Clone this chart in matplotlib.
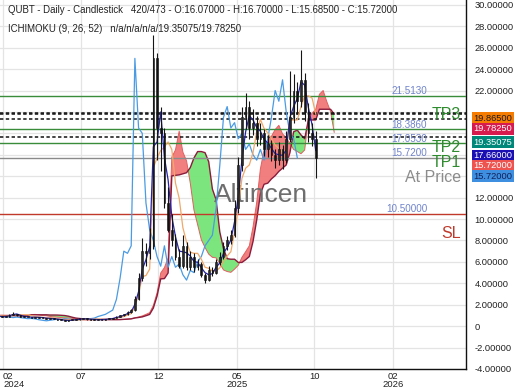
import matplotlib
matplotlib.use("Agg")
import matplotlib.pyplot as plt
import numpy as np
import pandas as pd

plt.rcParams['font.family'] = ['Liberation Sans', 'DejaVu Sans']

# ---------------- data (weekly bars, index 0 = start of visible range) ----------------
first_bar = -16
opens = [0.72,0.75,0.80,0.78,0.85,0.90,0.82,0.80,0.88,0.95,1.00,1.10,1.05,0.95,1.00,0.92,
         0.88,0.85,0.90,1.05,1.15,1.00,0.90,0.85,0.86,0.80,0.85,0.80,0.75,0.70,0.72,0.68,
         0.60,0.55,0.50,0.55,0.60,0.65,0.65,0.70,0.65,0.62,0.60,0.60,0.62,0.65,0.70,0.75,
         0.90,1.00,1.10,1.30,1.50,2.50,4.50,7.00,6.80,7.50,25.00,18.50,18.00,11.50,9.00,8.00,
         6.50,5.60,7.50,5.50,6.50,5.50,5.80,4.80,4.30,5.20,5.00,6.00,6.50,7.50,8.00,8.50,
         11.00,15.00,19.50,20.50,18.50,19.00,17.50,18.00,16.50,17.00,16.00,15.50,16.50,15.50,17.50,19.50,
         22.00,21.00,23.00,20.00,18.00,17.50]
highs = [0.80,0.84,0.83,0.90,0.95,0.92,0.86,0.92,0.99,1.06,1.18,1.12,1.07,1.05,1.02,0.95,
         0.92,0.96,1.10,1.30,1.18,1.02,0.93,0.90,0.88,0.88,0.87,0.82,0.77,0.76,0.74,0.70,
         0.63,0.57,0.58,0.63,0.68,0.69,0.73,0.72,0.67,0.64,0.64,0.65,0.68,0.74,0.79,0.95,
         1.05,1.16,1.38,1.62,2.80,5.00,8.20,7.80,9.20,27.20,25.50,20.50,18.50,13.00,10.50,8.60,
         7.20,8.50,7.90,7.00,6.80,6.30,6.00,5.00,5.60,5.50,6.30,6.90,7.90,8.40,9.00,11.80,
         15.80,20.50,21.80,21.00,20.30,19.60,19.00,18.40,17.80,17.40,16.50,17.20,16.90,18.20,23.80,23.50,
         22.80,25.80,23.60,20.80,19.00,18.20]
lows = [0.70,0.73,0.74,0.76,0.83,0.80,0.77,0.79,0.86,0.93,0.98,0.98,0.92,0.93,0.89,0.84,
        0.82,0.84,0.88,1.02,0.97,0.86,0.82,0.82,0.78,0.78,0.77,0.73,0.68,0.68,0.65,0.58,
        0.53,0.48,0.49,0.54,0.58,0.61,0.63,0.62,0.59,0.57,0.57,0.58,0.60,0.63,0.68,0.73,
        0.86,0.96,1.05,1.25,1.45,2.40,4.20,5.60,6.30,7.20,15.50,14.50,11.00,8.80,7.50,6.20,
        5.40,5.40,5.20,5.20,5.10,5.20,4.60,4.00,4.20,4.70,4.90,5.70,6.30,7.10,7.70,8.30,
        10.60,14.50,18.40,17.50,17.80,16.80,16.90,15.90,15.80,15.40,14.80,15.00,14.70,15.20,17.20,19.00,
        19.80,20.50,19.20,17.20,16.80,13.80]
closes = [0.75,0.80,0.78,0.85,0.90,0.82,0.80,0.88,0.95,1.00,1.10,1.05,0.95,1.00,0.92,0.88,
          0.85,0.90,1.05,1.15,1.00,0.90,0.85,0.86,0.80,0.85,0.80,0.75,0.70,0.72,0.68,0.60,
          0.55,0.50,0.55,0.60,0.65,0.65,0.70,0.65,0.62,0.60,0.60,0.62,0.65,0.70,0.75,0.90,
          1.00,1.10,1.30,1.50,2.50,4.50,7.00,6.80,7.50,25.00,18.50,18.00,11.50,9.00,8.00,6.50,
          5.60,7.50,5.50,6.50,5.50,5.80,4.80,4.30,5.20,5.00,6.00,6.50,7.50,8.00,8.50,11.00,
          15.00,19.50,20.50,18.50,19.00,17.50,18.00,16.50,17.00,16.00,15.50,16.50,15.50,17.50,19.50,22.00,
          21.00,23.00,20.00,18.00,17.50,15.72]

tenkan_len, kijun_len, spanb_len, displacement = 2, 5, 10, 5   # 9 / 26 / 52 days in weekly bars

level_tp = [21.513, 18.386, 17.053]
level_price = 15.72
level_sl = 10.5
dashed_levels = [19.865, 19.7825, 19.35075, 17.66]
level_text = ["21.5130", "18.3860", "17.0530", "15.7200", "10.50000"]
level_text_vals = [21.513, 18.386, 17.053, 15.72, 10.5]

box_labels = ["19.86500", "19.78250", "19.35075", "17.66000", "15.72000", "15.72000"]
box_colors = ["#f57c00", "#d81b4e", "#00897b", "#1a10b4", "#ef5350", "#3f8fe0"]
box_text_colors = ["#1a1a1a", "white", "white", "white", "white", "#10205a"]
box_pos = [19.50, 18.50, 17.25, 15.98, 15.07, 14.07]

xtick_pos = [0.27, 21.4, 42.3, 63.7, 84.6, 106.0]
xtick_labels = ["02\n2024", "07", "12", "05\n2025", "10", "02\n2026"]
ytick_vals = list(range(-4, 31, 2))
ytick_hidden = [14, 16, 18, 20]   # covered by the price boxes

# ---------------- figure ----------------
fig = plt.figure(figsize=(5.2, 3.9), dpi=100)
ax = fig.add_axes([0, 21/390, 466/520, 369/390])

n = len(closes)
x = np.arange(first_bar, first_bar + n)
df = pd.DataFrame({"o": opens, "h": highs, "l": lows, "c": closes}, index=x)

tenkan = (df.h.rolling(tenkan_len).max() + df.l.rolling(tenkan_len).min()) / 2
kijun = (df.h.rolling(kijun_len).max() + df.l.rolling(kijun_len).min()) / 2
span_a = (tenkan + kijun) / 2
span_b = (df.h.rolling(spanb_len).max() + df.l.rolling(spanb_len).min()) / 2
xs = x + displacement

# cloud
sa = span_a.values
sb = span_b.values
ax.fill_between(xs, sa, sb, where=sb >= sa, color="#76e476", alpha=0.95, interpolate=True, lw=0, zorder=2)
ax.fill_between(xs, sa, sb, where=sa > sb, color="#f27878", alpha=0.95, interpolate=True, lw=0, zorder=2)
ax.plot(xs, sa, color="#e06060", lw=0.7, zorder=3)
ax.plot(xs, sb, color="#8b1c3c", lw=1.0, zorder=3)

# levels
for v in level_tp:
    ax.axhline(v, color="#3a8c3a", lw=1.0, zorder=4)
ax.axhline(level_price, color="#8a8a8a", lw=1.0, zorder=4)
ax.axhline(level_sl, color="#c0392b", lw=1.0, zorder=4)
for v in dashed_levels:
    ax.axhline(v, color="#111111", lw=1.1, ls=(0, (2.2, 1.6)), zorder=4)

# watermark (beneath the price lines and candles)
ax.text(70.3, 12.5, "Altincen", color="#6e6e6e", fontsize=19, ha="center", va="center_baseline", zorder=4.5)

# chikou, kijun, tenkan
ax.plot(x - displacement, df.c.values, color="#4a9be3", lw=0.9, zorder=5)
ax.plot(x, kijun.values, color="#f0a868", lw=0.9, zorder=5)
ax.plot(x, tenkan.values, color="#2424a8", lw=0.9, zorder=6)

# candles
up = df.c >= df.o
ax.vlines(x, df.l, df.h, color="#151515", lw=0.8, zorder=7)
ax.bar(x, (df.c - df.o).abs().clip(lower=0.08), bottom=np.minimum(df.o, df.c), width=0.45,
       color=np.where(up, "#2a2a2a", "#111111"), edgecolor="#111111", lw=0.4, zorder=7)

# level texts
for t, v in zip(level_text, level_text_vals):
    ax.text(115.2, v + 0.5, t, color="#6f83cc", fontsize=7.1, ha="right", va="center_baseline", zorder=8)
big = dict(fontsize=11.5, ha="right", va="center_baseline", zorder=8)
ax.text(124.3, 19.9, "TP3", color="#2e8b2e", **big)
ax.text(124.3, 16.85, "TP2", color="#2e8b2e", **big)
ax.text(124.3, 15.45, "TP1", color="#2e8b2e", **big)
ax.text(124.3, 14.05, "At Price", color="#8c8c8c", **big)
ax.text(124.3, 8.8, "SL", color="#c0392b", **big)

# axes style
ax.set_xlim(-0.54, 125.7)
ax.set_ylim(-3.09, 30.45)
ax.set_xticks(xtick_pos)
ax.set_xticklabels(xtick_labels, fontsize=6.8, linespacing=0.95)
ax.get_xticklabels()[0].set_ha("left")
ax.set_yticks(ytick_vals)
ax.set_yticklabels(["" if v in ytick_hidden else ("0" if v == 0 else f"{v:.5f}") for v in ytick_vals],
                   fontsize=6.7)
ax.yaxis.tick_right()
ax.tick_params(axis="both", length=0, colors="#222222")
ax.tick_params(axis="y", pad=6)
ax.tick_params(axis="x", pad=2)
ax.grid(True, color="#e4e4e4", lw=0.9, zorder=0)
ax.set_axisbelow(True)
for s in ["top", "left"]:
    ax.spines[s].set_visible(False)
for s in ["right", "bottom"]:
    ax.spines[s].set_color("#111111")
    ax.spines[s].set_linewidth(1.0)

# right-side price boxes
trans = ax.get_yaxis_transform()
for lab, bg, tc, yv in zip(box_labels, box_colors, box_text_colors, box_pos):
    ax.text(1.0165, yv, lab, transform=trans, fontsize=6.7, color=tc, ha="left", va="center_baseline",
            bbox=dict(boxstyle="square,pad=0.16", fc=bg, ec="none"), clip_on=False, zorder=10)

fig.text(8/520, 1 - 10/390, "QUBT - Daily - Candlestick   420/473 - O:16.07000 - H:16.70000 - L:15.68500 - C:15.72000",
         fontsize=6.9, color="#222222", va="center", ha="left")
fig.text(8/520, 1 - 29/390, "ICHIMOKU (9, 26, 52)   n/a/n/a/n/a/19.35075/19.78250",
         fontsize=6.9, color="#222222", va="center", ha="left")

fig.savefig("out.png", dpi=100)
